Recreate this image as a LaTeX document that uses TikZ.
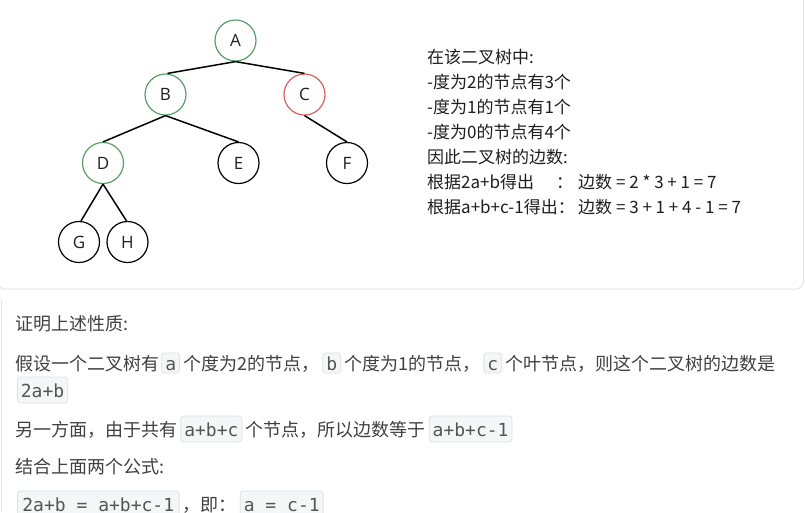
\documentclass[tikz,border=0pt]{standalone}
\usepackage{fontspec}
\newfontfamily\cjk{Noto Sans CJK SC}
\newfontfamily\lettr{Open Sans}
\newfontfamily\mono{DejaVu Sans Mono}
\definecolor{nodegreen}{RGB}{88,160,104}
\definecolor{nodered}{RGB}{214,98,92}
\definecolor{panelborder}{RGB}{228,228,228}
\definecolor{codebg}{RGB}{245,246,247}
\definecolor{codeborder}{RGB}{222,224,226}
\definecolor{codetext}{RGB}{85,85,85}
\definecolor{toptext}{RGB}{30,30,30}
\definecolor{bodytext}{RGB}{64,64,64}
\tikzset{
  treenode/.style={circle, draw=black, fill=white, line width=1.2pt, minimum size=41pt, inner sep=0pt,
    font=\lettr\fontsize{17pt}{20pt}\selectfont, text=black!88},
  greennode/.style={treenode, draw=nodegreen},
  rednode/.style={treenode, draw=nodered},
  treeedge/.style={line width=1.5pt, black},
  toptxt/.style={anchor=base west, inner sep=0pt, text=toptext, font=\cjk\fontsize{17pt}{20pt}\selectfont},
  bodytxt/.style={anchor=base west, inner sep=0pt, text=bodytext, font=\cjk\fontsize{18pt}{22pt}\selectfont},
  codebox/.style={anchor=base west, draw=codeborder, fill=codebg, rounded corners=3pt, inner xsep=3.5pt, inner ysep=0pt,
    line width=0.8pt, text=codetext, font=\mono\fontsize{18pt}{20pt}\selectfont},
  smallcode/.style={codebox, text height=17pt, text depth=3pt},
  tallcode/.style={codebox, text height=20pt, text depth=6pt}
}
\begin{document}
\begin{tikzpicture}[x=1pt,y=-1pt]
\useasboundingbox (0,0) rectangle (805,512);
% top panel
\draw[panelborder, line width=1pt, rounded corners=8pt] (-3,-20) rectangle (803.5,289);
\draw[panelborder, line width=1pt] (1.5,300) -- (1.5,512);
% tree
\node[greennode] (A) at (235.5,40.5) {A};
\node[greennode] (B) at (165.5,94.5) {B};
\node[rednode]   (C) at (304.5,94.5) {C};
\node[greennode] (D) at (103,163) {D};
\node[treenode]  (E) at (238.5,163) {E};
\node[treenode]  (F) at (347,163) {F};
\node[treenode]  (G) at (79,242) {G};
\node[treenode]  (H) at (127.5,242) {H};
\draw[treeedge] (A.south) -- ([xshift=2pt]B.north);
\draw[treeedge] (A.south) -- (C.north);
\draw[treeedge] (B.south) -- (D.north);
\draw[treeedge] (B.south) -- (E.north);
\draw[treeedge] (C.south) -- (F.north);
\draw[treeedge] (D.south) -- ([xshift=2pt]G.north);
\draw[treeedge] (D.south) -- ([xshift=-1pt]H.north);
% right text
\node[toptxt] (t1) at (427,63) {在该二叉树中:};
\node[toptxt] (t2) at (427,88) {-度为2的节点有3个};
\node[toptxt] (t3) at (427,113) {-度为1的节点有1个};
\node[toptxt] (t4) at (427,138) {-度为0的节点有4个};
\node[toptxt] (t5) at (427,163) {因此二叉树的边数:};
\node[toptxt] (t6) at (427,188) {根据2a+b得出};
\node[toptxt] (t6c) at (556,188) {：};
\node[toptxt] (t6r) at (578,188) {边数 = 2 * 3 + 1 = 7};
\node[toptxt] (t7) at (427,213) {根据a+b+c-1得出：};
\node[toptxt] (t7r) at (578,213) {边数 = 3 + 1 + 4 - 1 = 7};
% lower text
\node[bodytxt] (p1) at (15,330) {证明上述性质:};
\node[bodytxt] (p2a) at (15,370) {假设一个二叉树有};
\node[smallcode] (p2b) at ([xshift=2pt]p2a.base east) {a};
\node[bodytxt] (p2c) at ([xshift=3pt]p2b.base east) {个度为2的节点，};
\node[smallcode] (p2d) at ([xshift=3pt]p2c.base east) {b};
\node[bodytxt] (p2e) at ([xshift=3pt]p2d.base east) {个度为1的节点，};
\node[smallcode] (p2f) at ([xshift=3pt]p2e.base east) {c};
\node[bodytxt] (p2g) at ([xshift=3pt]p2f.base east) {个叶节点，则这个二叉树的边数是};
\node[tallcode] (p3) at (17,397) {2a+b};
\node[bodytxt] (p4a) at (15,436) {另一方面，由于共有};
\node[tallcode] (p4b) at ([xshift=3pt]p4a.base east) {a+b+c};
\node[bodytxt] (p4c) at ([xshift=3pt]p4b.base east) {个节点，所以边数等于};
\node[tallcode] (p4d) at ([xshift=3pt]p4c.base east) {a+b+c-1};
\node[bodytxt] (p5) at (15,473) {结合上面两个公式:};
\node[tallcode, inner xsep=5pt] (p6a) at (17,511) {2a+b = a+b+c-1};
\node[bodytxt] (p6b) at ([xshift=3pt]p6a.base east) {，即：};
\node[tallcode] (p6c) at ([xshift=3pt]p6b.base east) {a = c-1};
\end{tikzpicture}
\end{document}
